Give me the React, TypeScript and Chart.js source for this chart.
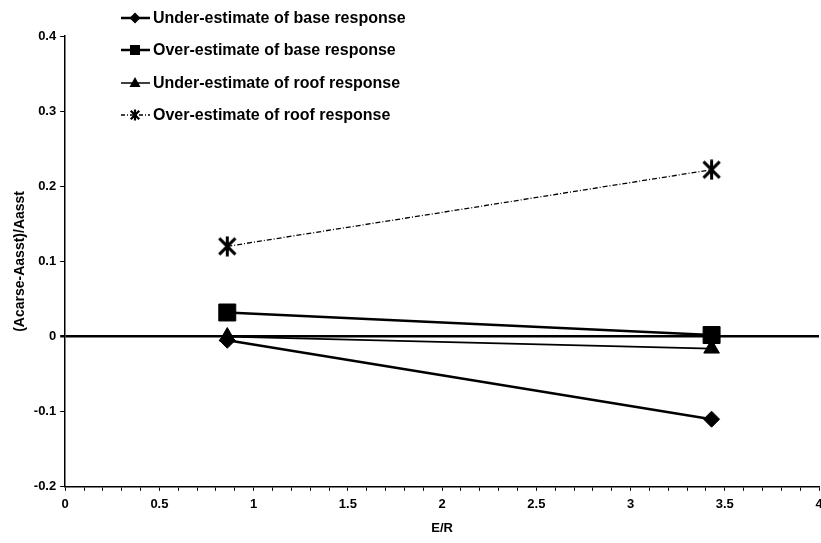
import React, { useEffect, useRef } from "react";
import { Chart, registerables } from "chart.js";

Chart.register(...registerables);

// ---- data ----
const xValues = [0.86, 3.43];
const underBase = [-0.005, -0.11];
const overBase = [0.032, 0.002];
const underRoof = [0.0, -0.016];
const overRoof = [0.12, 0.222];
const seriesNames = [
  "Under-estimate of base response",
  "Over-estimate of base response",
  "Under-estimate of roof response",
  "Over-estimate of roof response",
];
const xMin = 0, xMax = 4, xMinorStep = 0.1, xLabelStep = 0.5;
const yMin = -0.2, yMax = 0.4, yStep = 0.1;
const xTitle = "E/R";
const yTitle = "(Acarse-Aasst)/Aasst";

const FONT = "'Liberation Sans', Arial, sans-serif";

function makeAsterisk(size: number, lw: number): HTMLCanvasElement {
  const c = document.createElement("canvas");
  c.width = size;
  c.height = size;
  const g = c.getContext("2d")!;
  g.strokeStyle = "#000";
  g.lineWidth = lw;
  g.lineCap = "butt";
  const m = lw * 0.8;
  g.beginPath();
  g.moveTo(m, m);
  g.lineTo(size - m, size - m);
  g.moveTo(size - m, m);
  g.lineTo(m, size - m);
  g.moveTo(size / 2, 0.5);
  g.lineTo(size / 2, size - 0.5);
  g.stroke();
  return c;
}

function pts(ys: number[]) {
  return xValues.map((x, i) => ({ x, y: ys[i] }));
}

export default function App() {
  const ref = useRef<HTMLCanvasElement | null>(null);
  useEffect(() => {
    if (!ref.current) return;
    const star = makeAsterisk(21, 3);
    const starSmall = makeAsterisk(12, 2.2);

    const styles = [
      { pointStyle: "rectRot", radius: 8, width: 2.5, dash: [] as number[] },
      { pointStyle: "rect", radius: 12, width: 2.5, dash: [] as number[] },
      { pointStyle: "triangle", radius: 9, width: 1.8, dash: [] as number[] },
      { pointStyle: star as any, radius: 10, width: 1.3, dash: [5, 2, 1, 2] },
    ];
    const series = [underBase, overBase, underRoof, overRoof];

    const legendPlugin = {
      id: "customLegend",
      afterDraw(chart: any) {
        const ctx = chart.ctx as CanvasRenderingContext2D;
        const rows = [18, 50, 83, 115];
        ctx.save();
        rows.forEach((y, i) => {
          const x0 = 121, x1 = 150, mx = 135;
          ctx.strokeStyle = "#000";
          ctx.fillStyle = "#000";
          ctx.lineWidth = i < 2 ? 2.5 : 1.5;
          ctx.setLineDash(i === 3 ? [4, 2, 1, 2] : []);
          ctx.beginPath();
          ctx.moveTo(x0, y);
          ctx.lineTo(x1, y);
          ctx.stroke();
          ctx.setLineDash([]);
          ctx.beginPath();
          if (i === 0) {
            const r = 5.5;
            ctx.moveTo(mx, y - r);
            ctx.lineTo(mx + r, y);
            ctx.lineTo(mx, y + r);
            ctx.lineTo(mx - r, y);
            ctx.closePath();
            ctx.fill();
          } else if (i === 1) {
            ctx.rect(mx - 5, y - 5, 10, 10);
            ctx.fill();
          } else if (i === 2) {
            ctx.moveTo(mx, y - 6);
            ctx.lineTo(mx + 5.5, y + 4);
            ctx.lineTo(mx - 5.5, y + 4);
            ctx.closePath();
            ctx.fill();
          } else {
            ctx.drawImage(starSmall, mx - 6, y - 6);
          }
          ctx.font = "bold 16px " + FONT;
          ctx.textBaseline = "middle";
          ctx.textAlign = "left";
          ctx.fillText(seriesNames[i], 153, y + 1);
        });
        ctx.restore();
      },
    };

    const chart = new Chart(ref.current, {
      type: "scatter",
      data: {
        datasets: series.map((ys, i) => ({
          label: seriesNames[i],
          data: pts(ys),
          showLine: true,
          borderColor: "#000",
          backgroundColor: "#000",
          borderWidth: styles[i].width,
          borderDash: styles[i].dash,
          pointStyle: styles[i].pointStyle as any,
          pointRadius: styles[i].radius,
          pointHoverRadius: styles[i].radius,
          pointBorderWidth: 1,
          pointBackgroundColor: "#000",
          pointBorderColor: "#000",
          tension: 0,
        })),
      },
      options: {
        animation: false,
        responsive: false,
        maintainAspectRatio: false,
        layout: { padding: { left: 0, top: 36, right: 0, bottom: 7 } },
        plugins: {
          legend: { display: false },
          tooltip: { enabled: false },
        },
        scales: {
          x: {
            type: "linear",
            min: xMin,
            max: xMax,
            border: { color: "#000", width: 1.5 },
            grid: {
              drawOnChartArea: false,
              color: "#000",
              tickColor: "#000",
              tickLength: 4,
              lineWidth: 1,
            },
            ticks: {
              stepSize: xMinorStep,
              autoSkip: false,
              maxRotation: 0,
              color: "#000",
              padding: 6,
              font: { family: FONT, size: 13, weight: "bold" },
              callback: (v: any) => {
                const n = Number(v);
                const k = Math.round(n / xLabelStep);
                if (Math.abs(n - k * xLabelStep) < 1e-6) {
                  const val = k * xLabelStep;
                  return String(Number(val.toFixed(1)));
                }
                return "";
              },
            },
            title: {
              display: true,
              text: xTitle,
              color: "#000",
              font: { family: FONT, size: 13, weight: "bold" },
              padding: { top: 2, bottom: 0 },
            },
          },
          y: {
            type: "linear",
            min: yMin,
            max: yMax,
            border: { color: "#000", width: 1.5 },
            grid: {
              drawOnChartArea: true,
              color: (c: any) =>
                c.tick && Math.abs(c.tick.value) < 1e-9 ? "#000" : "rgba(0,0,0,0)",
              lineWidth: (c: any) =>
                c.tick && Math.abs(c.tick.value) < 1e-9 ? 2.5 : 1,
              tickColor: "#000",
              tickLength: 5,
            },
            ticks: {
              stepSize: yStep,
              color: "#000",
              padding: 4,
              font: { family: FONT, size: 13, weight: "bold" },
              callback: (v: any) => {
                const n = Number(v);
                if (Math.abs(n) < 1e-9) return "0";
                return n.toFixed(1);
              },
            },
            title: {
              display: true,
              text: yTitle,
              color: "#000",
              font: { family: FONT, size: 14, weight: "bold" },
              padding: { top: 12, bottom: 1 },
            },
          },
        },
      },
      plugins: [legendPlugin],
    });
    return () => chart.destroy();
  }, []);

  return (
    <div
      style={{
        position: "fixed",
        left: 0,
        top: 0,
        width: 821,
        height: 543,
        overflow: "hidden",
        background: "#fff",
      }}
    >
      <canvas ref={ref} width={832} height={543} style={{ display: "block" }} />
    </div>
  );
}
